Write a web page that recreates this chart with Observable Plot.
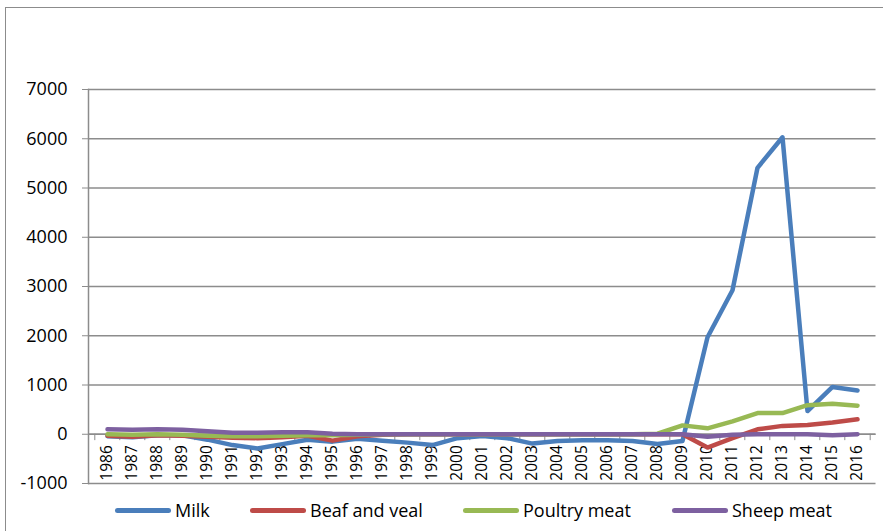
<!DOCTYPE html>
<html><head><meta charset="utf-8">
<script src="https://cdn.jsdelivr.net/npm/d3@7"></script>
<script src="https://cdn.jsdelivr.net/npm/@observablehq/plot@0.6"></script>
<style>
body{margin:0;background:#fff;font-family:"Open Sans",sans-serif;}
#wrap{position:relative;width:883px;height:531px;overflow:hidden;}
#frame{position:absolute;left:5px;top:7px;width:900px;height:600px;border:1.5px solid #8c8c8c;}
#chart{position:absolute;left:0;top:0;}
#chart svg [aria-label="y-axis tick label"]{font-size:18px;}
#chart svg [aria-label="text"]{font-size:15.5px;}
.item{position:absolute;top:497px;display:flex;align-items:center;font-size:18px;color:#000;height:26px;white-space:nowrap}
.sw{width:56px;height:5px;border-radius:3px;margin-right:4px}
</style></head>
<body>
<div id="wrap"><div id="frame"></div><div id="chart"></div><div id="legend"></div></div>
<script>
const years = ["1986","1987","1988","1989","1990","1991","1992","1993","1994","1995","1996","1997","1998","1999","2000","2001","2002","2003","2004","2005","2006","2007","2008","2009","2010","2011","2012","2013","2014","2015","2016"];
const milk    = [-40,-60,-20,-20,-110,-220,-290,-200,-110,-150,-90,-130,-170,-220,-80,-35,-80,-190,-135,-120,-120,-135,-200,-135,1970,2925,5410,6030,470,960,890];
const beef    = [-30,-50,-20,-30,-50,-70,-80,-60,-30,-130,-40,-10,0,0,0,0,0,0,0,0,0,0,0,0,-270,-80,100,170,190,240,305];
const poultry = [0,-10,0,-10,-30,-40,-40,-30,-20,-20,-10,0,0,0,0,0,0,0,0,0,0,0,10,180,120,260,430,430,590,620,580];
const sheep   = [100,90,100,90,60,30,30,40,40,10,0,0,0,0,0,0,0,0,0,0,0,0,0,0,-50,-10,0,0,0,-20,0];
const seriesNames = ["Milk","Beaf and veal","Poultry meat","Sheep meat"];
const seriesValues = [milk, beef, poultry, sheep];
const colors = ["#4a7ebb","#be4b48","#98b954","#7d60a0"];
const yTicks = [-1000,0,1000,2000,3000,4000,5000,6000,7000];

const data = [];
seriesNames.forEach((name, si) => years.forEach((yr, i) => data.push({series: name, year: yr, value: seriesValues[si][i]})));

const left = 88, right = 875.5;
const band = (right - left) / years.length;
const grey = "#8c8c8c";

const chart = Plot.plot({
  width: 883, height: 495,
  marginLeft: left, marginRight: 883 - right, marginTop: 89, marginBottom: 12,
  style: {fontFamily: "'Open Sans', sans-serif", background: "transparent", color: "#000"},
  x: {type: "point", domain: years, padding: 0.5, axis: null},
  y: {domain: [-1000, 7000], axis: null},
  color: {domain: seriesNames, range: colors},
  marks: [
    Plot.gridY(yTicks, {stroke: grey, strokeOpacity: 1, strokeWidth: 1.5}),
    Plot.frame({anchor: "left", stroke: grey, strokeWidth: 1.5}),
    Plot.axisY(yTicks, {label: null, tickSize: 6, tickPadding: 15, fontSize: 18, stroke: grey, tickFormat: d => String(d)}),
    Plot.ruleY([0], {stroke: grey, strokeWidth: 1.5}),
    Plot.ruleX(years, {x: d => d, y1: 0, y2: -130, dx: -band / 2, stroke: grey, strokeWidth: 1}),
    Plot.ruleX([years[years.length - 1]], {x: d => d, y1: 0, y2: -130, dx: band / 2, stroke: grey, strokeWidth: 1}),
    Plot.text(years, {x: d => d, y: 0, text: d => d, rotate: -90, textAnchor: "end", dy: 11, fontSize: 15.5, fill: "#000"}),
    Plot.line(data, {x: "year", y: "value", z: "series", stroke: "series", strokeWidth: 4.5, strokeLinejoin: "round", strokeLinecap: "round"})
  ]
});
document.getElementById("chart").appendChild(chart);

const legendPos = [115, 250, 463, 672];
const leg = document.getElementById("legend");
seriesNames.forEach((name, i) => {
  const it = document.createElement("div");
  it.className = "item";
  it.style.left = legendPos[i] + "px";
  it.innerHTML = `<span class="sw" style="background:${colors[i]}"></span><span>${name}</span>`;
  leg.appendChild(it);
});
</script>
</body></html>
